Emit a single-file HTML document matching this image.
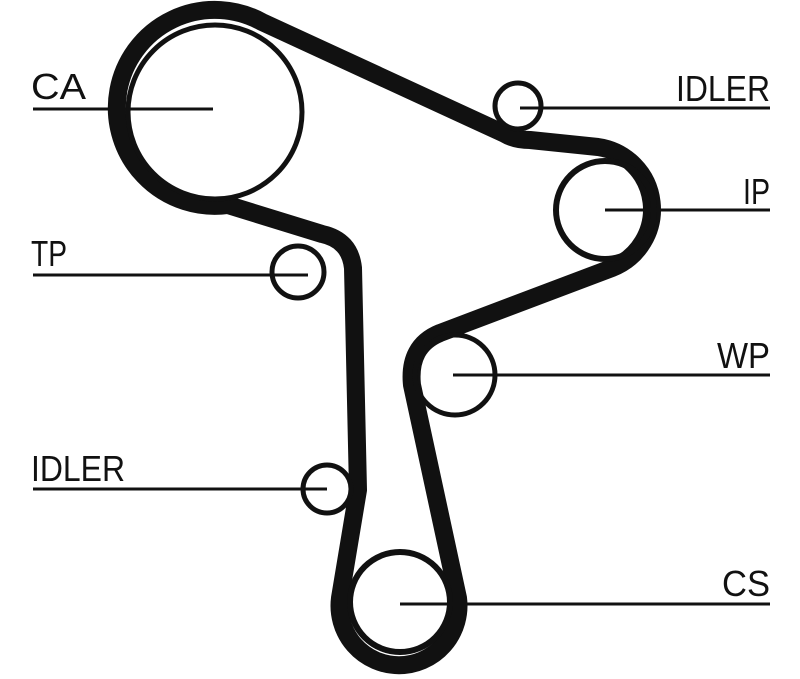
<!DOCTYPE html>
<html><head><style>
html,body{margin:0;padding:0;background:#fff;}
svg{display:block;}
text{font-family:"Liberation Sans",sans-serif;font-size:36px;fill:#111;}
</style></head><body>
<svg width="800" height="679" viewBox="0 0 800 679">
<g fill="none" stroke="#111">
<path d="M 262,22 L 505,134 Q 515,140 530,140 L 598,147 A 63 63 0 0 1 612,268 L 440,333 Q 408,346 412,385 L 458,598 A 59.5 59.5 0 1 1 340,598 L 358,490 L 353,268 Q 350,240 322,234 L 228,205 A 98 98 0 1 1 262,22 Z" stroke-width="18" stroke-linejoin="round"/>
<circle cx="215" cy="112" r="87" stroke-width="5"/>
<circle cx="518" cy="106" r="23" stroke-width="5"/>
<circle cx="605" cy="210" r="49" stroke-width="6"/>
<circle cx="298" cy="272" r="26" stroke-width="5"/>
<circle cx="455" cy="375" r="40" stroke-width="5"/>
<circle cx="327" cy="489" r="24" stroke-width="5"/>
<circle cx="400" cy="602" r="50" stroke-width="6"/>
<g stroke-width="3">
<line x1="33" y1="109" x2="213" y2="109"/>
<line x1="520" y1="108" x2="770" y2="108"/>
<line x1="605" y1="210" x2="770" y2="210"/>
<line x1="33" y1="275" x2="308" y2="275"/>
<line x1="453" y1="375" x2="770" y2="375"/>
<line x1="33" y1="489" x2="327" y2="489"/>
<line x1="400" y1="604" x2="770" y2="604"/>
</g>
</g>
<text x="31" y="99" textLength="55" lengthAdjust="spacingAndGlyphs">CA</text>
<text x="31" y="266" textLength="36" lengthAdjust="spacingAndGlyphs">TP</text>
<text x="31" y="481" textLength="94" lengthAdjust="spacingAndGlyphs">IDLER</text>
<text x="676" y="101" textLength="94" lengthAdjust="spacingAndGlyphs">IDLER</text>
<text x="743" y="204" textLength="27" lengthAdjust="spacingAndGlyphs">IP</text>
<text x="717" y="368" textLength="53" lengthAdjust="spacingAndGlyphs">WP</text>
<text x="722" y="596" textLength="48" lengthAdjust="spacingAndGlyphs">CS</text>
</svg>
</body></html>
